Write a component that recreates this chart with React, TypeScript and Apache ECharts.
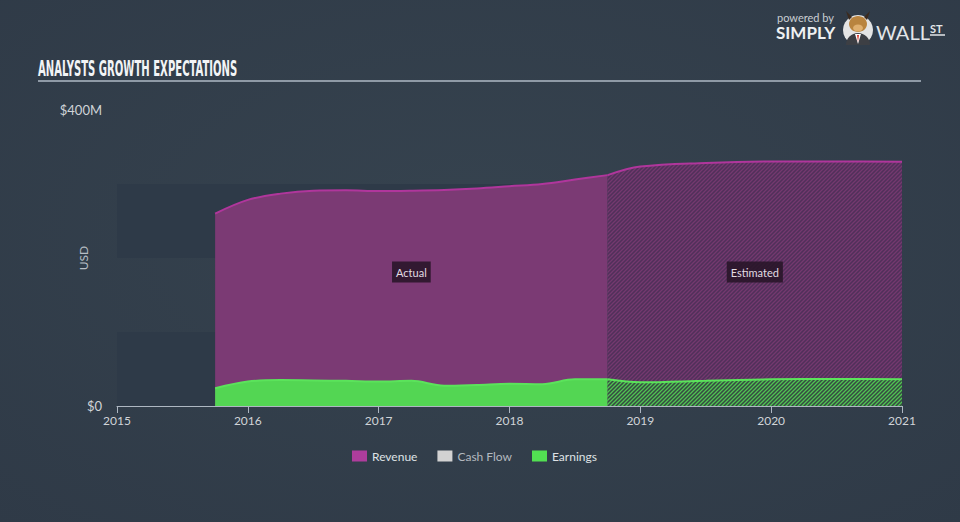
import React, { useEffect, useRef } from "react";
import * as echarts from "echarts";

// ---- data (values in $ millions) ----
const actualYears = [2015.75, 2016.0, 2016.25, 2016.5, 2016.75, 2017.0, 2017.25, 2017.5, 2017.75, 2018.0, 2018.25, 2018.5, 2018.75];
const revenueActual = [260, 278.5, 287, 291, 291.5, 290.5, 291, 292, 294, 297, 300, 306, 312];
const earningsActual = [24, 33, 35, 34.5, 34, 33, 34, 27.5, 28.5, 30, 29.5, 36, 36];

const estYears = [2018.75, 2019.0, 2019.5, 2020.0, 2020.5, 2021.0];
const revenueEst = [312, 323.5, 328.5, 330.5, 330.5, 330];
const earningsEst = [36, 32, 34, 36, 36.5, 36];

const cashFlow: number[] = [];

const yTicks = [0, 100, 200, 300, 400];
const yLabelMap: Record<number, string> = { 0: "$0", 400: "$400M" };
const legendNames = ["Revenue", "Cash Flow", "Earnings"];

const FONT = "Lato, 'Open Sans', sans-serif";

function zip(xs: number[], ys: number[]) {
  return xs.map((x, i) => [x, ys[i]]);
}

function makeHatch(bg: string, fg: string, size: number, lw: number) {
  const c = document.createElement("canvas");
  c.width = size;
  c.height = size;
  const ctx = c.getContext("2d")!;
  ctx.fillStyle = bg;
  ctx.fillRect(0, 0, size, size);
  ctx.strokeStyle = fg;
  ctx.lineWidth = lw;
  ctx.beginPath();
  ctx.moveTo(0, size);
  ctx.lineTo(size, 0);
  ctx.moveTo(-1, 1);
  ctx.lineTo(1, -1);
  ctx.moveTo(size - 1, size + 1);
  ctx.lineTo(size + 1, size - 1);
  ctx.stroke();
  return c.toDataURL();
}

export default function App() {
  const ref = useRef<HTMLDivElement>(null);

  useEffect(() => {
    if (!ref.current) return;
    const chart = echarts.init(ref.current, null, { renderer: "svg" });

    const purpleHatch = {
      image: makeHatch("#50305a", "#74396f", 4, 1.3),
      repeat: "repeat",
      imageWidth: 4,
      imageHeight: 4,
    };
    const greenHatch = {
      image: makeHatch("#364a42", "#50c452", 4, 1.3),
      repeat: "repeat",
      imageWidth: 4,
      imageHeight: 4,
    };

    const revLine = { color: "#b0369c", width: 2 };
    const earnLine = { color: "#5be35b", width: 2 };
    const labelBox = {
      show: true,
      position: "inside",
      color: "#e2dce2",
      fontSize: 11,
      lineHeight: 13,
      fontFamily: FONT,
      backgroundColor: "rgba(38,20,38,0.85)",
      padding: [4, 4],
    };
    const midActual = (actualYears[0] + actualYears[actualYears.length - 1]) / 2;
    const midEst = (estYears[0] + estYears[estYears.length - 1]) / 2;
    const labelY = 181;

    const smoothness = 0.35;

    const option: any = {
      animation: false,
      backgroundColor: new echarts.graphic.RadialGradient(0.5, 0.45, 0.75, [
        { offset: 0, color: "#36434f" },
        { offset: 1, color: "#2f3a47" },
      ]),
      textStyle: { fontFamily: FONT },
      grid: { left: 117, right: 58, top: 110, bottom: 116, containLabel: false },
      xAxis: {
        type: "value",
        min: 2015,
        max: 2021,
        interval: 1,
        axisLine: { show: true, lineStyle: { color: "#aeb7c2", width: 1 } },
        axisTick: { show: true, length: 7, lineStyle: { color: "#aeb7c2" } },
        axisLabel: {
          color: "#d0d4d8",
          fontSize: 12,
          fontFamily: FONT,
          margin: 8,
          formatter: (v: number) => String(Math.round(v)),
        },
        splitLine: { show: false },
      },
      yAxis: {
        type: "value",
        min: yTicks[0],
        max: yTicks[yTicks.length - 1],
        interval: 100,
        name: "USD",
        nameLocation: "middle",
        nameGap: 28,
        nameRotate: 90,
        nameMoveOverlap: false,
        nameTextStyle: { color: "#b8bec5", fontSize: 12, fontFamily: FONT },
        axisLine: { show: false },
        axisTick: { show: false },
        axisLabel: {
          color: "#d0d4d8",
          fontSize: 13,
          fontFamily: FONT,
          margin: 15,
          verticalAlign: "middle",
          padding: [0, 0, 4, 0],
          formatter: (v: number) => yLabelMap[v] ?? "",
        },
        splitLine: { show: false },
        splitArea: {
          show: true,
          areaStyle: { color: ["#2e3a48", "rgba(0,0,0,0)"] },
        },
      },
      legend: {
        bottom: 55,
        left: 347,
        icon: "rect",
        itemWidth: 15,
        itemHeight: 11,
        itemGap: 20,
        textStyle: { color: "#dfe2e5", fontSize: 12, fontFamily: FONT },
        data: [
          { name: legendNames[0] },
          { name: legendNames[1], textStyle: { color: "#b4b9bf" } },
          { name: legendNames[2] },
        ],
        selectedMode: false,
      },
      series: [
        {
          name: legendNames[0],
          type: "line",
          data: zip(actualYears, revenueActual),
          smooth: smoothness,
          showSymbol: false,
          itemStyle: { color: "#ae3d9c" },
          lineStyle: revLine,
          areaStyle: { color: "#7b3a74", opacity: 1 },
          z: 2,
          markPoint: {
            symbol: "rect",
            symbolSize: 0,
            data: [{ coord: [midActual, labelY], value: "Actual" }],
            label: { ...labelBox, formatter: "Actual" },
          },
        },
        {
          name: legendNames[0],
          type: "line",
          data: zip(estYears, revenueEst),
          smooth: smoothness,
          showSymbol: false,
          itemStyle: { color: "#ae3d9c" },
          lineStyle: revLine,
          areaStyle: { color: purpleHatch, opacity: 1 },
          z: 2,
          markPoint: {
            symbol: "rect",
            symbolSize: 0,
            data: [{ coord: [midEst, labelY], value: "Estimated" }],
            label: { ...labelBox, formatter: "Estimated" },
          },
        },
        {
          name: legendNames[1],
          type: "line",
          data: cashFlow,
          showSymbol: false,
          itemStyle: { color: "#d2d2d2" },
        },
        {
          name: legendNames[2],
          type: "line",
          data: zip(actualYears, earningsActual),
          smooth: smoothness,
          showSymbol: false,
          itemStyle: { color: "#52e052" },
          lineStyle: earnLine,
          areaStyle: { color: "#53d653", opacity: 1 },
          z: 3,
        },
        {
          name: legendNames[2],
          type: "line",
          data: zip(estYears, earningsEst),
          smooth: smoothness,
          showSymbol: false,
          itemStyle: { color: "#52e052" },
          lineStyle: earnLine,
          areaStyle: { color: greenHatch, opacity: 1 },
          z: 3,
        },
      ],
      graphic: [
        {
          type: "text",
          left: 38,
          top: 58,
          scaleX: 0.533,
          style: {
            text: "ANALYSTS GROWTH EXPECTATIONS",
            fill: "#f2f4f6",
            font: "bold 21px 'Liberation Sans Narrow', 'DejaVu Sans Condensed', sans-serif",
          },
        },
        {
          type: "line",
          shape: { x1: 38, y1: 81, x2: 921, y2: 81 },
          style: { stroke: "#8f9aa6", lineWidth: 2 },
        },
        // logo
        {
          type: "text",
          x: 777,
          y: 17,
          style: {
            text: "powered by",
            fill: "#c9ced3",
            font: "11px Lato, sans-serif",
            lineHeight: 11,
            textVerticalAlign: "middle",
          },
        },
        {
          type: "text",
          x: 776,
          y: 32.5,
          style: {
            text: "SIMPLY",
            fill: "#eef0f2",
            font: "bold 17px Lato, sans-serif",
            lineHeight: 14,
            textVerticalAlign: "middle",
          },
        },
        { type: "circle", shape: { cx: 858, cy: 30, r: 15 }, style: { fill: "#e4e4e4" } },
        { type: "sector", shape: { cx: 858, cy: 45, r0: 0, r: 12, startAngle: Math.PI, endAngle: Math.PI * 2 }, style: { fill: "#3d3f44" } },
        { type: "polygon", shape: { points: [[855, 34], [861, 34], [858, 44]] }, style: { fill: "#ffffff" } },
        { type: "polygon", shape: { points: [[857, 35], [859, 35], [858, 42]] }, style: { fill: "#d8382c" } },
        { type: "ellipse", shape: { cx: 858, cy: 24, rx: 9, ry: 8 }, style: { fill: "#b9843f" } },
        { type: "ellipse", shape: { cx: 858, cy: 28, rx: 5, ry: 3.5 }, style: { fill: "#e0b070" } },
        { type: "polygon", shape: { points: [[849, 20], [846, 11], [852, 17]] }, style: { fill: "#3b2a1e" } },
        { type: "polygon", shape: { points: [[867, 20], [870, 11], [864, 17]] }, style: { fill: "#3b2a1e" } },
        {
          type: "text",
          x: 876,
          y: 32,
          style: {
            text: "WALL",
            fill: "#e3e6e9",
            font: "20px Lato, sans-serif",
            lineHeight: 16,
            textVerticalAlign: "middle",
          },
        },
        {
          type: "text",
          x: 930,
          y: 28,
          style: {
            text: "ST",
            fill: "#e3e6e9",
            font: "bold 11px Lato, sans-serif",
            lineHeight: 10,
            textVerticalAlign: "middle",
          },
        },
        {
          type: "line",
          shape: { x1: 930, y1: 35, x2: 945, y2: 35 },
          style: { stroke: "#e3e6e9", lineWidth: 1.5 },
        },
      ],
    };

    chart.setOption(option);
    return () => chart.dispose();
  }, []);

  return (
    <div
      ref={ref}
      style={{ position: "absolute", left: 0, top: 0, width: 960, height: 522 }}
    />
  );
}
